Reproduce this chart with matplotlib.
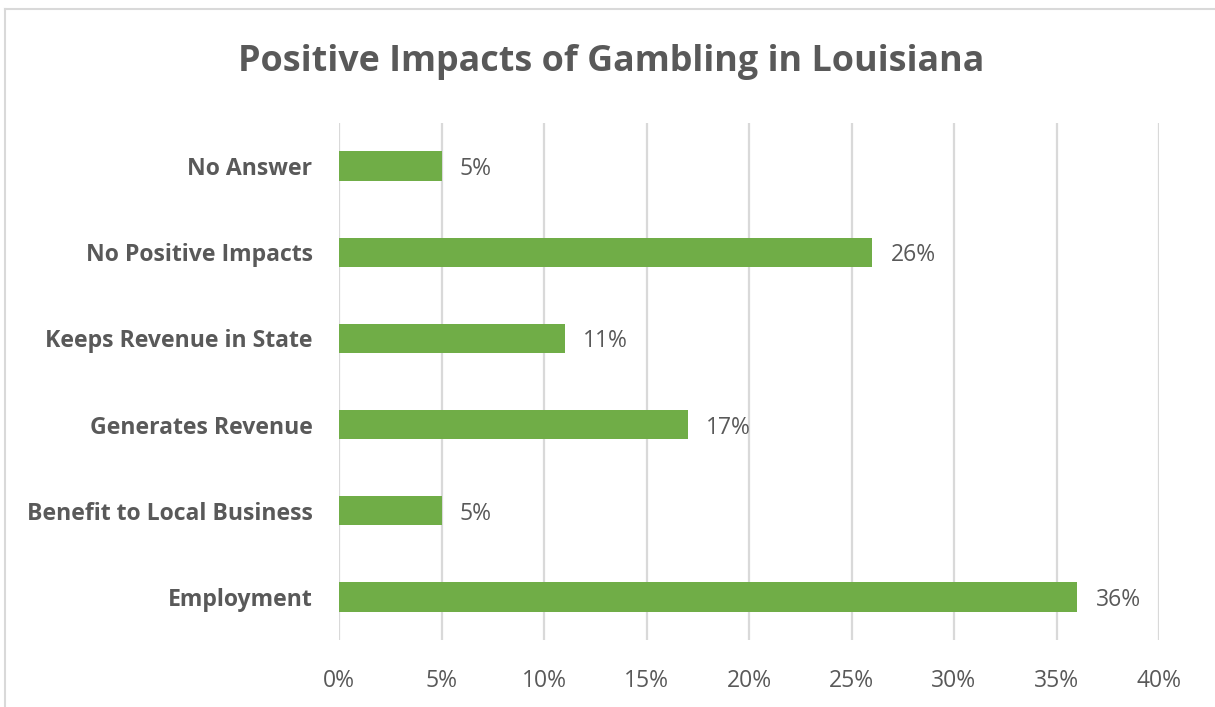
import matplotlib.pyplot as plt
from matplotlib.lines import Line2D

categories = ["Employment", "Benefit to Local Business", "Generates Revenue",
              "Keeps Revenue in State", "No Positive Impacts", "No Answer"]
values = [36, 5, 17, 11, 26, 5]
xticks = [0, 5, 10, 15, 20, 25, 30, 35, 40]

gray = "#595959"
fig = plt.figure(figsize=(12.15, 7.07), dpi=100)
ax = fig.add_axes([339 / 1215, 1 - 640 / 707, 820 / 1215, 517 / 707])

ax.barh(range(len(categories)), values, height=0.34, color="#70AD47", zorder=3)
for i, v in enumerate(values):
    ax.text(v + 0.9, i, f"{v}%", va="center_baseline", ha="left", fontsize=16.5,
            color=gray, family="Open Sans")

ax.set_xlim(0, 40)
ax.set_ylim(-0.5, len(categories) - 0.5)
ax.set_xticks(xticks)
ax.set_xticklabels([f"{t}%" for t in xticks], fontsize=16.5, color=gray,
                   family="Open Sans")
ax.set_yticks(range(len(categories)))
ax.set_yticklabels(categories, fontsize=16.6, color=gray, fontweight="bold",
                   family="Open Sans")
ax.tick_params(axis="x", length=0, pad=21)
ax.tick_params(axis="y", length=0, pad=19)
ax.grid(axis="x", color="#D9D9D9", linewidth=1.6, zorder=0)
for s in ax.spines.values():
    s.set_visible(False)

fig.text(611 / 1215, 1 - 62 / 707, "Positive Impacts of Gambling in Louisiana",
         ha="center", va="center", fontsize=25.8, fontweight="bold", color=gray,
         family="Open Sans")

# chart frame (only top and left edges visible)
fig.add_artist(Line2D([5 / 1215, 1], [1 - 9 / 707, 1 - 9 / 707],
                      color="#D9D9D9", linewidth=1.5))
fig.add_artist(Line2D([5 / 1215, 5 / 1215], [0, 1 - 9 / 707],
                      color="#D9D9D9", linewidth=1.5))

fig.savefig("out.png")
